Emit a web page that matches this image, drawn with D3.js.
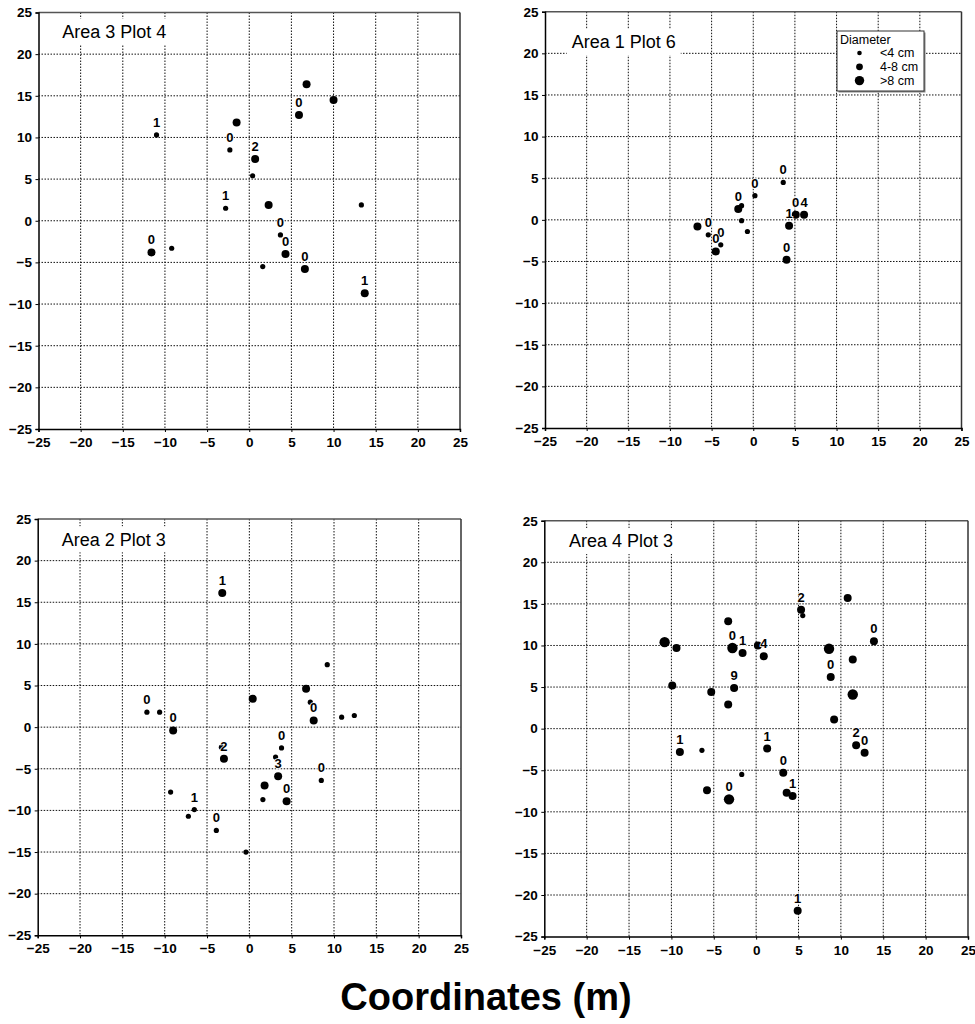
<!DOCTYPE html>
<html>
<head>
<meta charset="utf-8">
<script src="https://cdn.jsdelivr.net/npm/d3@7"></script>
<style>
  html, body { margin: 0; padding: 0; background: #fff; }
  svg { display: block; font-family: "Liberation Sans", Arial, sans-serif; }
</style>
</head>
<body>
<svg id="chart" width="975" height="1024"></svg>
<script>
// ---------------- DATA ----------------
const tickValues = [-25, -20, -15, -10, -5, 0, 5, 10, 15, 20, 25];
const sizeClasses = ["<4 cm", "4-8 cm", ">8 cm"];   // size code 1, 2, 3
const panelTitles = ["Area 3 Plot 4", "Area 1 Plot 6", "Area 2 Plot 3", "Area 4 Plot 3"];

// Area 3 Plot 4
const p1X     = [6.8, 10.0, 5.9, -1.5, -11.0, -2.3, 0.7, 0.4, -2.8, 2.3, 13.3, 3.7, 4.3, -11.6, -9.2, 1.6, 6.6, 13.7];
const p1Y     = [16.4, 14.5, 12.7, 11.8, 10.3, 8.5, 7.4, 5.4, 1.5, 1.9, 1.9, -1.7, -4.0, -3.8, -3.3, -5.5, -5.8, -8.7];
const p1Size  = [2, 2, 2, 2, 1, 1, 2, 1, 1, 2, 1, 1, 2, 2, 1, 1, 2, 2];
const p1Label = ["", "", "0", "", "1", "0", "2", "", "1", "", "", "0", "0", "0", "", "", "0", "1"];

// Area 1 Plot 6
const p2X     = [3.6, 0.2, -1.8, -1.4, -1.4, -0.7, -6.7, -5.4, -3.9, -4.5, 4.0, 4.3, 5.1, 6.1];
const p2Y     = [4.5, 2.9, 1.3, 1.7, -0.1, -1.4, -0.8, -1.8, -3.0, -3.8, -4.8, -0.7, 0.6, 0.6];
const p2Size  = [1, 1, 2, 1, 1, 1, 2, 1, 1, 2, 2, 2, 2, 2];
const p2Label = ["0", "0", "0", "", "", "", "", "0", "0", "0", "0", "1", "0", "4"];

// Area 2 Plot 3
const p3X     = [-3.2, -12.1, -10.6, -9.0, 0.4, 6.7, 7.2, 7.6, 9.2, 10.9, 12.4, -3.3, -3.0, 3.8, 3.1, 3.4, 1.8, 1.6, 4.4, 8.5, -9.3, -6.5, -7.2, -3.9, -0.4];
const p3Y     = [16.1, 1.8, 1.8, -0.4, 3.4, 4.6, 3.0, 0.8, 7.5, 1.2, 1.4, -2.4, -3.8, -2.5, -3.6, -5.9, -7.0, -8.7, -8.9, -6.4, -7.8, -9.9, -10.7, -12.4, -15.0];
const p3Size  = [2, 1, 1, 2, 2, 2, 1, 2, 1, 1, 1, 1, 2, 1, 1, 2, 2, 1, 2, 1, 1, 1, 1, 1, 1];
const p3Label = ["1", "0", "", "0", "", "", "", "0", "", "", "", "", "2", "0", "", "3", "", "", "0", "0", "", "1", "", "0", ""];

// Area 4 Plot 3
const p4X     = [-10.8, -9.4, -9.9, -5.3, -3.3, -2.8, -1.6, 0.2, 0.9, -2.6, -3.3, -9.0, -6.4, -1.7, -5.8, -3.2, 1.3, 3.2, 3.6, 4.3, 4.9, 5.3, 5.5, 10.8, 13.9, 8.6, 11.4, 8.8, 11.4, 9.2, 11.8, 12.8];
const p4Y     = [10.4, 9.7, 5.2, 4.4, 12.9, 9.7, 9.1, 10.0, 8.7, 4.9, 2.9, -2.8, -2.6, -5.5, -7.4, -8.5, -2.4, -5.3, -7.7, -8.1, -21.9, 14.3, 13.6, 15.7, 10.5, 9.6, 8.3, 6.2, 4.1, 1.1, -2.0, -2.9];
const p4Size  = [3, 2, 2, 2, 2, 3, 2, 2, 2, 2, 2, 2, 1, 1, 2, 3, 2, 2, 2, 2, 2, 2, 1, 2, 2, 3, 2, 2, 3, 2, 2, 2];
const p4Label = ["", "", "", "", "", "0", "1", "", "4", "9", "", "1", "", "", "", "0", "1", "0", "", "1", "1", "2", "", "", "0", "", "", "0", "", "", "2", "0"];

// ---------------- LAYOUT ----------------
const svg = d3.select("#chart");
const radius = {1: 2.6, 2: 4.0, 3: 5.2};

const panels = [
  {title: panelTitles[0], xs: p1X, ys: p1Y, sz: p1Size, lb: p1Label,
   box: {l: 38.5, r: 460, t: 12.5, b: 429}, tx: 62.3, ty: 31.7, legend: false},
  {title: panelTitles[1], xs: p2X, ys: p2Y, sz: p2Size, lb: p2Label,
   box: {l: 545, r: 961.5, t: 11.7, b: 428}, tx: 571.7, ty: 42, legend: true},
  {title: panelTitles[2], xs: p3X, ys: p3Y, sz: p3Size, lb: p3Label,
   box: {l: 37.7, r: 461, t: 519, b: 935.3}, tx: 61.7, ty: 539.3, legend: false},
  {title: panelTitles[3], xs: p4X, ys: p4Y, sz: p4Size, lb: p4Label,
   box: {l: 544.3, r: 968, t: 520.7, b: 936.6}, tx: 569, ty: 541, legend: false}
];

panels.forEach(p => {
  const x = d3.scaleLinear().domain([-25, 25]).range([p.box.l, p.box.r]);
  const y = d3.scaleLinear().domain([-25, 25]).range([p.box.b, p.box.t]);
  const g = svg.append("g");

  // grid
  const inner = tickValues.filter(v => v > -25 && v < 25);
  g.selectAll(".vg").data(inner).join("line")
    .attr("x1", d => x(d)).attr("x2", d => x(d))
    .attr("y1", y(25)).attr("y2", y(-25))
    .attr("stroke", "#111").attr("stroke-width", 1).attr("stroke-dasharray", "1.5,1.5");
  g.selectAll(".hg").data(inner).join("line")
    .attr("y1", d => y(d)).attr("y2", d => y(d))
    .attr("x1", x(-25)).attr("x2", x(25))
    .attr("stroke", "#111").attr("stroke-width", 1).attr("stroke-dasharray", "1.5,1.5");

  // frame top / right
  g.append("line").attr("x1", x(-25)).attr("x2", x(25)).attr("y1", y(25)).attr("y2", y(25))
    .attr("stroke", "#555").attr("stroke-width", 1.4);
  g.append("line").attr("x1", x(25)).attr("x2", x(25)).attr("y1", y(25)).attr("y2", y(-25))
    .attr("stroke", "#333").attr("stroke-width", 1.5);

  // title with white background
  const tt = g.append("text").attr("x", p.tx).attr("y", p.ty).attr("dy", "0.35em")
    .attr("font-size", 18).attr("fill", "#000").text(p.title);
  const bb = tt.node().getBBox();
  g.insert("rect", "text").attr("x", bb.x - 5).attr("y", p.ty - 13)
    .attr("width", bb.width + 10).attr("height", 26).attr("fill", "#fff");

  // axes
  const xAxis = d3.axisBottom(x).tickValues(tickValues).tickSize(3).tickPadding(3);
  const yAxis = d3.axisLeft(y).tickValues(tickValues).tickSize(3).tickPadding(3.5);
  const gx = g.append("g").attr("transform", `translate(0,${p.box.b})`).call(xAxis);
  const gy = g.append("g").attr("transform", `translate(${p.box.l},0)`).call(yAxis);
  [gx, gy].forEach(a => {
    a.select(".domain").attr("stroke", "#000").attr("stroke-width", 1.5);
    a.selectAll(".tick line").attr("stroke", "#000");
    a.selectAll("text").attr("font-family", "'Liberation Sans', Arial, sans-serif")
      .attr("font-size", 13.5).attr("font-weight", "bold").attr("fill", "#000");
  });
  gx.selectAll("text").attr("dy", "0.9em");

  // points
  const data = p.xs.map((v, i) => ({x: v, y: p.ys[i], s: p.sz[i], l: p.lb[i]}));
  g.selectAll(".pt").data(data).join("circle")
    .attr("cx", d => x(d.x)).attr("cy", d => y(d.y))
    .attr("r", d => radius[d.s]).attr("fill", "#000");

  // labels
  g.selectAll(".lb").data(data.filter(d => d.l !== "")).join("text")
    .attr("x", d => x(d.x)).attr("y", d => y(d.y) - 8)
    .attr("text-anchor", "middle").attr("font-size", 13).attr("font-weight", "bold")
    .attr("fill", "#000").attr("stroke", "#fff").attr("stroke-width", 1.5)
    .attr("paint-order", "stroke").text(d => d.l);

  // legend
  if (p.legend) {
    const lg = g.append("g");
    lg.append("rect").attr("x", 838.5).attr("y", 32.5).attr("width", 87).attr("height", 60).attr("fill", "#888");
    lg.append("rect").attr("x", 837).attr("y", 31).attr("width", 87).attr("height", 60)
      .attr("fill", "#fff").attr("stroke", "#333").attr("stroke-width", 1);
    lg.append("text").attr("x", 840).attr("y", 43.5).attr("font-size", 12.5).attr("fill", "#000").text("Diameter");
    const lr = [2.3, 3.4, 4.7];
    sizeClasses.forEach((s, i) => {
      const cy = 53 + i * 13.8;
      lg.append("circle").attr("cx", 859.5).attr("cy", cy).attr("r", lr[i]).attr("fill", "#000");
      lg.append("text").attr("x", 880).attr("y", cy).attr("dy", "0.35em")
        .attr("font-size", 12.5).attr("fill", "#000").text(s);
    });
  }
});

// overall axis title
svg.append("text").attr("x", 486).attr("y", 1010).attr("text-anchor", "middle")
  .attr("font-size", 38).attr("font-weight", "bold").attr("fill", "#000").text("Coordinates (m)");
</script>
</body>
</html>
